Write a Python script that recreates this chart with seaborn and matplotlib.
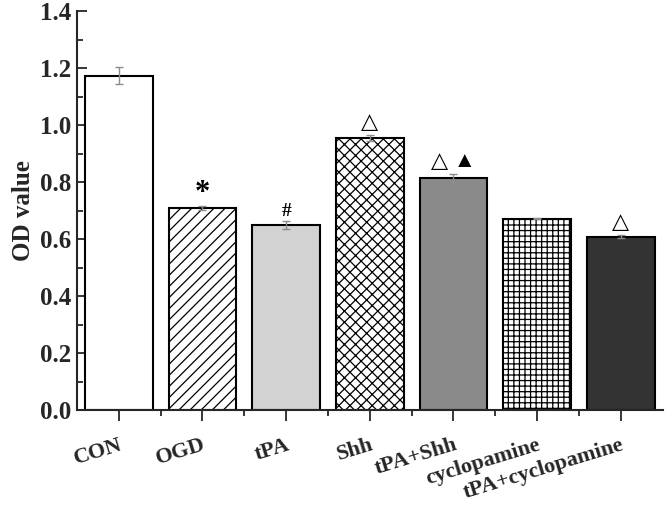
import matplotlib
matplotlib.use("Agg")
import matplotlib.pyplot as plt
import seaborn as sns
from matplotlib.ticker import MultipleLocator, FormatStrFormatter

groups = ["CON", "OGD", "tPA", "Shh", "tPA+Shh", "cyclopamine", "tPA+cyclopamine"]
od_mean = [1.174, 0.708, 0.649, 0.955, 0.815, 0.672, 0.609]
od_err = [0.030, 0.007, 0.015, 0.010, 0.015, 0.003, 0.005]
marks = ["", "*", "#", "\u25b3", "\u25b3 \u25b2", "", "\u25b3"]

bar_colors = ["#ffffff", "#ffffff", "#d2d2d2", "#ffffff", "#8a8a8a", "#ffffff", "#333333"]
bar_hatches = ["", "///", "", "xxx", "", "+++", ""]

sns.set_style("ticks")
plt.rcParams['font.family'] = ['Liberation Serif', 'DejaVu Sans']
plt.rcParams['font.weight'] = 'bold'
plt.rcParams['hatch.linewidth'] = 0.9
plt.rcParams['hatch.color'] = '#333333'

fig = plt.figure(figsize=(6.66, 5.05), dpi=100)
ax = fig.add_axes([0.1156, 0.188, 0.8794, 0.79])

sns.barplot(x=groups, y=od_mean, palette=bar_colors, hue=groups, legend=False,
            width=0.81, edgecolor="black", linewidth=1.5, ax=ax, saturation=1)
for patch, hatch in zip(ax.patches, bar_hatches):
    patch.set_hatch(hatch)

ax.errorbar(range(len(groups)), od_mean, yerr=od_err, fmt="none",
            ecolor="#8c8c8c", elinewidth=1, capsize=3, capthick=1)

# significance marks above bars
for i, m in enumerate(marks):
    if not m:
        continue
    if m == "*":
        size, dy = 22, -0.005
    elif m == "#":
        size, dy = 14, 0.004
    else:
        size, dy = 16, 0.006
    ax.text(i, od_mean[i] + od_err[i] + dy, m, ha="center", va="bottom",
            fontsize=size, fontweight="bold", family=['Liberation Serif', 'DejaVu Sans'],
            color="black")

ax.set_xlim(-0.5, 6.5)
ax.set_ylim(0, 1.4)
ax.yaxis.set_major_locator(MultipleLocator(0.2))
ax.yaxis.set_minor_locator(MultipleLocator(0.1))
ax.set_xticks(range(len(groups)))
ax.set_xticks([i + 0.5 for i in range(len(groups) - 1)], minor=True)
ax.yaxis.set_major_formatter(FormatStrFormatter("%.1f"))

ax.tick_params(axis="y", which="major", direction="in", length=7, width=1.3, labelsize=18, pad=4)
ax.tick_params(axis="y", which="minor", direction="in", length=4, width=1.3)
ax.tick_params(axis="x", which="major", direction="out", length=8, width=1.3, pad=10)
ax.tick_params(axis="x", which="minor", direction="out", length=4, width=1.3)
for lab in ax.get_xticklabels():
    lab.set_rotation(17)
    lab.set_ha("right")
    lab.set_rotation_mode("anchor")
    lab.set_fontsize(16)
    lab.set_fontweight("bold")
for lab in ax.get_yticklabels():
    lab.set_fontweight("bold")

ax.set_ylabel("OD value", fontsize=18, fontweight="bold", labelpad=4)
ax.set_xlabel("")
sns.despine(ax=ax)
for s in ("left", "bottom"):
    ax.spines[s].set_linewidth(1.5)

fig.savefig("out.png", dpi=100)
plt.close(fig)
